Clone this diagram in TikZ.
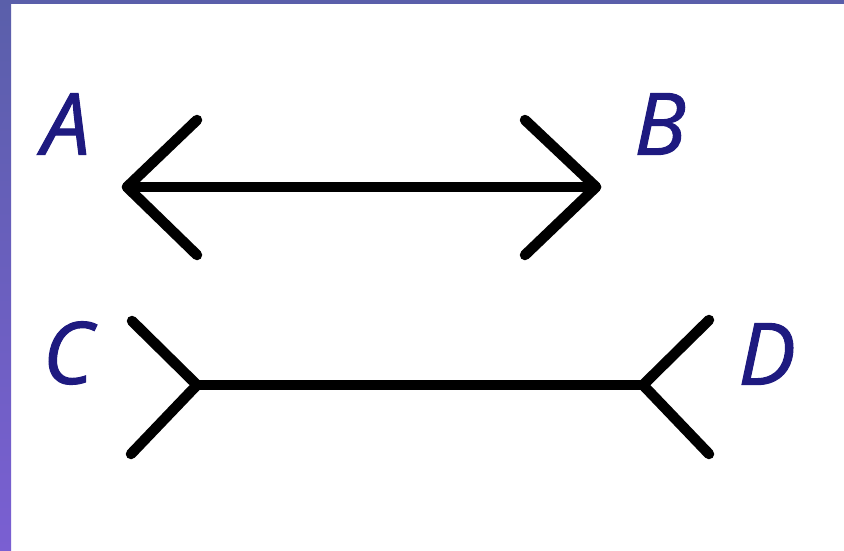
\documentclass[tikz,border=0pt]{standalone}
\usepackage{fontspec}
\setmainfont{Open Sans}
\newfontfamily\labelfont[FakeBold=1.2]{Open Sans}
\definecolor{frame}{HTML}{5A5FAA}
\definecolor{framelow}{HTML}{7A5FD2}
\definecolor{label}{HTML}{1E1A80}
\begin{document}
\begin{tikzpicture}[x=1pt,y=-1pt,
  fin/.style={line width=10.5pt,line cap=round,line join=round,black},
  letter/.style={inner sep=0pt,text=label,font=\fontsize{86}{86}\selectfont\labelfont\itshape}]
% canvas and frame
\fill[white] (0,0) rectangle (844,550);
\useasboundingbox (0,0) rectangle (844,550);
\fill[frame] (0,0) rectangle (844,4);
\shade[top color=frame,bottom color=framelow] (0,0) rectangle (11,550);
% labels
\node[letter] (A) at (66,124) {A};
\node[letter] (B) at (660,124) {B};
\node[letter] (C) at (68,353) {C};
\node[letter] (D) at (767,354) {D};
% arrow with outward heads
\coordinate (a0) at (127,187);
\coordinate (a1) at (197,120);
\coordinate (a2) at (197,255);
\coordinate (b0) at (596,187);
\coordinate (b1) at (525,120);
\coordinate (b2) at (525,255);
\draw[fin] (a0) -- (b0);
\draw[fin] (a1) -- (a0) -- (a2);
\draw[fin] (b1) -- (b0) -- (b2);
% line with inward fins
\coordinate (c0) at (197,385);
\coordinate (c1) at (132,321);
\coordinate (c2) at (131,454);
\coordinate (d0) at (643,385);
\coordinate (d1) at (709,320);
\coordinate (d2) at (709,454);
\draw[fin] (c0) -- (d0);
\draw[fin] (c1) -- (c0) -- (c2);
\draw[fin] (d1) -- (d0) -- (d2);
\end{tikzpicture}
\end{document}
